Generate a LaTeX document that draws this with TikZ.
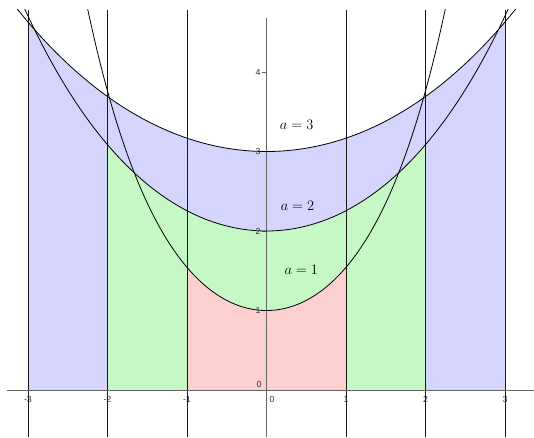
\documentclass[tikz,border=0pt]{standalone}
\usepackage{fontspec}
\newfontfamily\ticksf{Liberation Sans}
\definecolor{fillblue}{RGB}{212,212,252}
\definecolor{fillgreen}{RGB}{198,248,198}
\definecolor{fillpink}{RGB}{253,208,208}
\begin{document}
\begin{tikzpicture}[x=79.5pt,y=79.5pt,
  curve/.style={black, line width=0.8pt},
  vline/.style={black!90, line width=0.8pt},
  axisline/.style={black!60, line width=0.9pt},
  ticklab/.style={font=\ticksf\fontsize{8.8}{10}\selectfont, text=black!80, inner sep=0pt},
  alab/.style={font=\fontsize{13.5}{16}\selectfont, inner sep=0pt}]
\useasboundingbox (-3.352,-0.591) rectangle (3.365,4.906);
% filled regions
\fill[fillblue] (-3,0) -- plot[domain=-3:3, samples=120] (\x,{3*cosh(\x/3)}) -- (3,0) -- cycle;
\fill[fillgreen] (-2,0) -- plot[domain=-2:2, samples=100] (\x,{2*cosh(\x/2)}) -- (2,0) -- cycle;
\fill[fillpink] (-1,0) -- plot[domain=-1:1, samples=80] (\x,{cosh(\x)}) -- (1,0) -- cycle;
% vertical lines
\foreach \k in {-3,-2,-1,1,2,3} \draw[vline] (\k,4.786) -- (\k,-0.591);
% axes
\draw[axisline] (-3.26,0) -- (3.365,0);
\draw[axisline] (0,4.675) -- (0,-0.591);
\foreach \k in {1,2,3,4} \draw[axisline] ([xshift=-4pt]0,\k) -- (0,\k);
% catenaries
\begin{scope}
\clip (-3.352,-0.591) rectangle (3.365,4.786);
\draw[curve] plot[domain=-2.4:2.4, samples=160] (\x,{cosh(\x)});
\draw[curve] plot[domain=-3.3:3.3, samples=160] (\x,{2*cosh(\x/2)});
\draw[curve] plot[domain=-3.4:3.4, samples=160] (\x,{3*cosh(\x/3)});
\end{scope}
% tick labels
\node[ticklab, anchor=north] (xm3) at ([yshift=-6pt]-3,0) {-3};
\node[ticklab, anchor=north] (xm2) at ([yshift=-6pt]-2,0) {-2};
\node[ticklab, anchor=north] (xm1) at ([yshift=-6pt]-1,0) {-1};
\node[ticklab, anchor=north] (x0) at ([xshift=5.5pt,yshift=-6pt]0,0) {0};
\node[ticklab, anchor=north] (x1) at ([yshift=-6pt]1,0) {1};
\node[ticklab, anchor=north] (x2) at ([yshift=-6pt]2,0) {2};
\node[ticklab, anchor=north] (x3) at ([yshift=-6pt]3,0) {3};
\node[ticklab, anchor=east] (y0) at ([xshift=-4.8pt,yshift=5.3pt]0,0) {0};
\node[ticklab, anchor=east] (y1) at ([xshift=-5.8pt]0,1) {1};
\node[ticklab, anchor=east] (y2) at ([xshift=-5.8pt]0,2) {2};
\node[ticklab, anchor=east] (y3) at ([xshift=-5.8pt]0,3) {3};
\node[ticklab, anchor=east] (y4) at ([xshift=-5.8pt]0,4) {4};
% curve labels
\node[alab] (la3) at (0.380,3.337) {$a=3$};
\node[alab] (la2) at (0.390,2.312) {$a=2$};
\node[alab] (la1) at (0.437,1.513) {$a=1$};
\end{tikzpicture}
\end{document}
